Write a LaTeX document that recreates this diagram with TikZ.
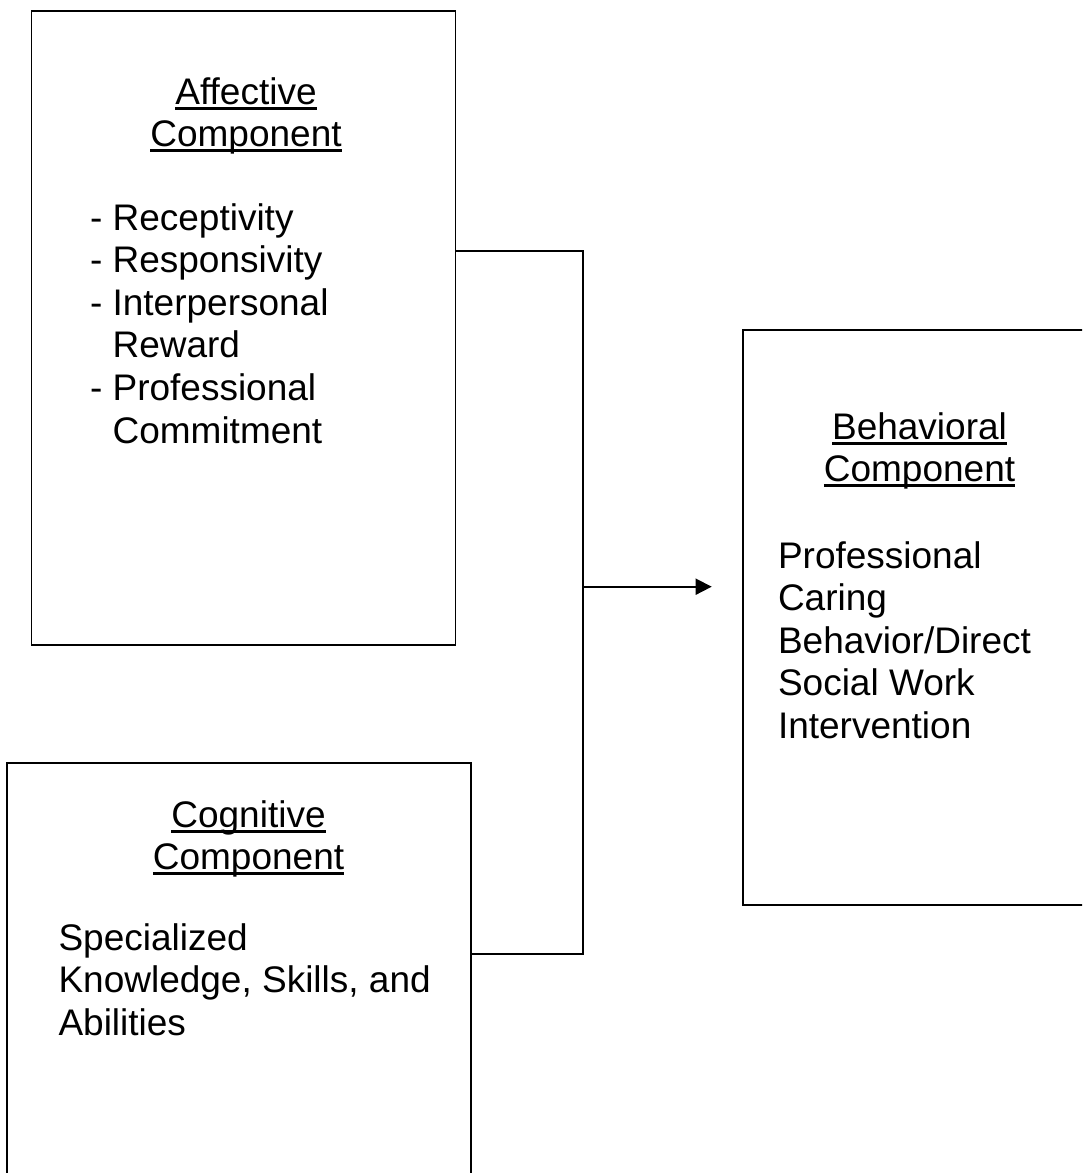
\documentclass[tikz,border=0pt]{standalone}
\usepackage{fontspec}
\setmainfont{Liberation Sans}
\usetikzlibrary{arrows.meta}
\newcommand\myul[1]{\setbox0\hbox{#1}\rlap{\rule[-5.6pt]{\wd0}{2.8pt}}\box0}
\newcommand\fs{\rule{0pt}{30pt}}
\tikzset{
  box/.style={draw, line width=1.8pt, inner sep=0pt, outer sep=0pt},
  txt/.style={font=\fontsize{37}{42.6}\selectfont, inner sep=0pt, outer sep=0pt},
  conn/.style={line width=1.8pt},
  arr/.style={line width=1.8pt, -{Triangle[length=16pt,width=16pt]}},
}
\begin{document}
\begin{tikzpicture}[x=1pt,y=-1pt]
\useasboundingbox (0,0) rectangle (1082,1173);
\clip (0,0) rectangle (1082,1173);
% boxes
\node[box, minimum width=424pt, minimum height=634pt] (aff) at (243.5,328) {};
\node[box, minimum width=464pt, minimum height=460pt] (cog) at (239,993) {};
\node[box, minimum width=380pt, minimum height=575pt] (beh) at (933.3,617.5) {};
% texts
\node[txt, align=center, anchor=north] (afft) at (246,74) {\fs\myul{Affective}\\\myul{Component}};
\node[txt, align=left, anchor=north west] (affl) at (90,200) {\fs- Receptivity\\- Responsivity\\- Interpersonal\\\phantom{- }Reward\\- Professional\\\phantom{- }Commitment};
\node[txt, align=center, anchor=north] (cogt) at (248.5,797) {\fs\myul{Cognitive}\\\myul{Component}};
\node[txt, align=left, anchor=north west] (cogl) at (58.5,920) {\fs Specialized\\Knowledge, Skills, and\\Abilities};
\node[txt, align=center, anchor=north] (beht) at (919.5,409) {\fs\myul{Behavioral}\\\myul{Component}};
\node[txt, align=left, anchor=north west] (behl) at (778,538) {\fs Professional\\Caring\\Behavior/Direct\\Social Work\\Intervention};
% connectors
\coordinate (j1) at (583.3,250.7);
\coordinate (j2) at (583.3,954);
\coordinate (jm) at (583.3,586.7);
\draw[conn] (aff.east |- j1) -- (j1) -- (j2) -- (cog.east |- j2);
\draw[arr, shorten >=31.6pt] (jm) -- (beh.west |- jm);
\end{tikzpicture}
\end{document}
